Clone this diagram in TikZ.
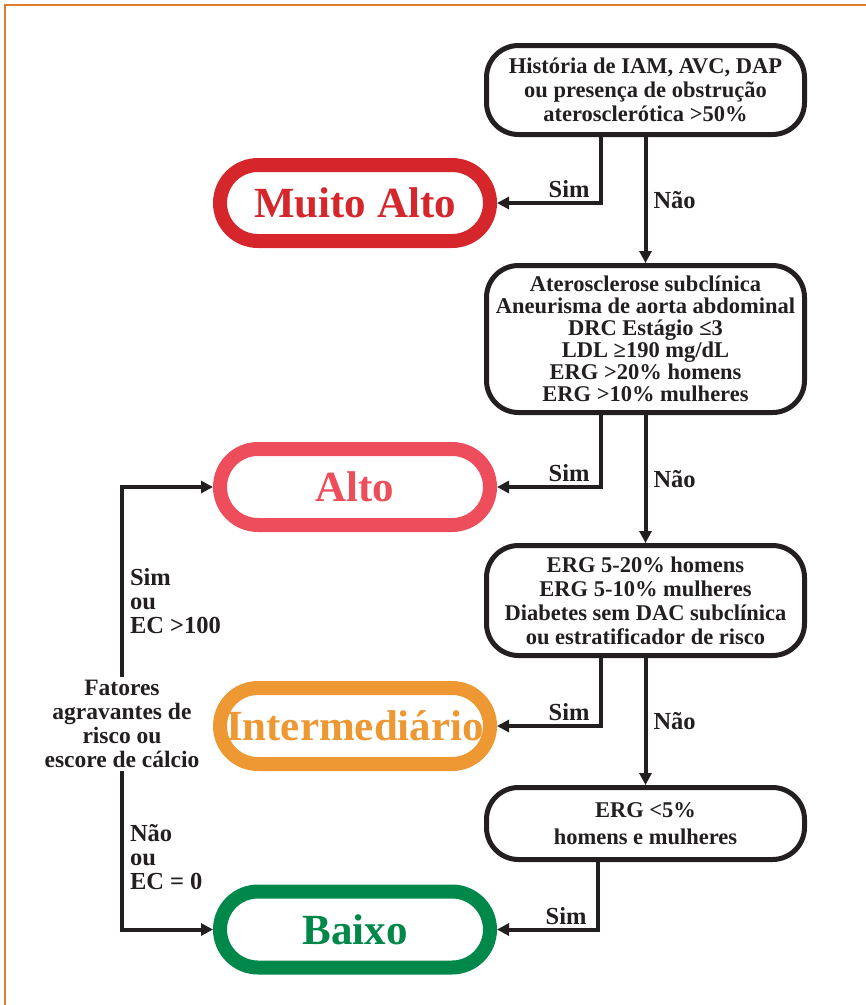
\documentclass[tikz,border=0pt]{standalone}
\usepackage{fontspec}
\setmainfont{Liberation Serif}
\usetikzlibrary{arrows.meta}

\definecolor{moldura}{HTML}{E07B30}
\definecolor{muitoalto}{HTML}{D5262C}
\definecolor{alto}{HTML}{EE4D5C}
\definecolor{interm}{HTML}{EE9834}
\definecolor{baixo}{HTML}{00884A}
\definecolor{tinta}{HTML}{231F20}

\begin{document}
\begin{tikzpicture}[x=1pt, y=-1pt, color=tinta,
    every node/.style={font=\bfseries},
    crit/.style={draw, line width=5pt, rounded corners=32pt, minimum width=318pt,
      align=center, inner sep=0pt, font=\fontsize{22.5}{24}\selectfont\bfseries},
    risco/.style={draw=#1, text=#1, line width=14pt, rounded corners=38pt,
      minimum width=270pt, minimum height=76pt, font=\fontsize{43}{44}\selectfont\bfseries},
    lab/.style={inner sep=3pt, font=\fontsize{24.5}{24}\selectfont\bfseries},
    seta/.style={line width=4pt, -{Triangle[length=12pt,width=12pt]}}]
  \useasboundingbox (0,0) rectangle (866,1005);
  \draw[moldura, line width=2.5pt] (5,1005) -- (5,5) -- (866,5);

  % criterios
  \node[crit, minimum height=89pt] (hist) at (645.5,90)
    {História de IAM, AVC, DAP\\ou presença de obstrução\\aterosclerótica >50\%};
  \node[crit, minimum height=147pt, font=\fontsize{22.5}{22}\selectfont\bfseries] (ater) at (645.5,339)
    {Aterosclerose subclínica\\Aneurisma de aorta abdominal\\DRC Estágio ≤3\\LDL ≥190 mg/dL\\ERG >20\% homens\\ERG >10\% mulheres};
  \node[crit, minimum height=110pt] (erg) at (645.5,600.5)
    {ERG 5-20\% homens\\ERG 5-10\% mulheres\\Diabetes sem DAC subclínica\\ou estratificador de risco};
  \node[crit, minimum height=72pt, font=\fontsize{22.5}{27}\selectfont\bfseries] (ergb) at (645.5,823.5)
    {ERG <5\%\\homens e mulheres};

  % categorias de risco
  \node[risco=muitoalto] (muito) at (355,203) {Muito Alto};
  \node[risco=alto] (alto) at (355,487) {Alto};
  \node[risco=interm] (inter) at (355,726) {Intermediário};
  \node[risco=baixo] (baixo) at (355,929.5) {Baixo};

  \node[lab, align=center, font=\fontsize{23.5}{24}\selectfont\bfseries] (fat) at (122,724)
    {Fatores\\agravantes de\\risco ou\\escore de cálcio};

  % setas
  \draw[seta] ([xshift=-45pt]hist.south) |- node[lab, pos=0.5, anchor=south east, xshift=-6pt] {Sim} (muito);
  \draw[seta] (hist) -- node[lab, right, xshift=3pt] {Não} (ater);
  \draw[seta] ([xshift=-45pt]ater.south) |- node[lab, pos=0.5, anchor=south east, xshift=-6pt] {Sim} (alto);
  \draw[seta] (ater) -- node[lab, right, xshift=3pt] {Não} (erg);
  \draw[seta] ([xshift=-45pt]erg.south) |- node[lab, pos=0.5, anchor=south east, xshift=-6pt] {Sim} (inter);
  \draw[seta] (erg) -- node[lab, right, xshift=3pt] {Não} (ergb);
  \draw[seta] ([xshift=-48pt]ergb.south) |- node[lab, pos=0.5, anchor=south east, xshift=-6pt] {Sim} (baixo);
  \draw[seta] (fat) |- node[lab, right, align=left, pos=0.2, xshift=3pt] {Sim\\ou\\EC >100} (alto);
  \draw[seta] (fat) |- node[lab, right, align=left, pos=0.27, xshift=3pt] {Não\\ou\\EC = 0} (baixo);
\end{tikzpicture}
\end{document}
